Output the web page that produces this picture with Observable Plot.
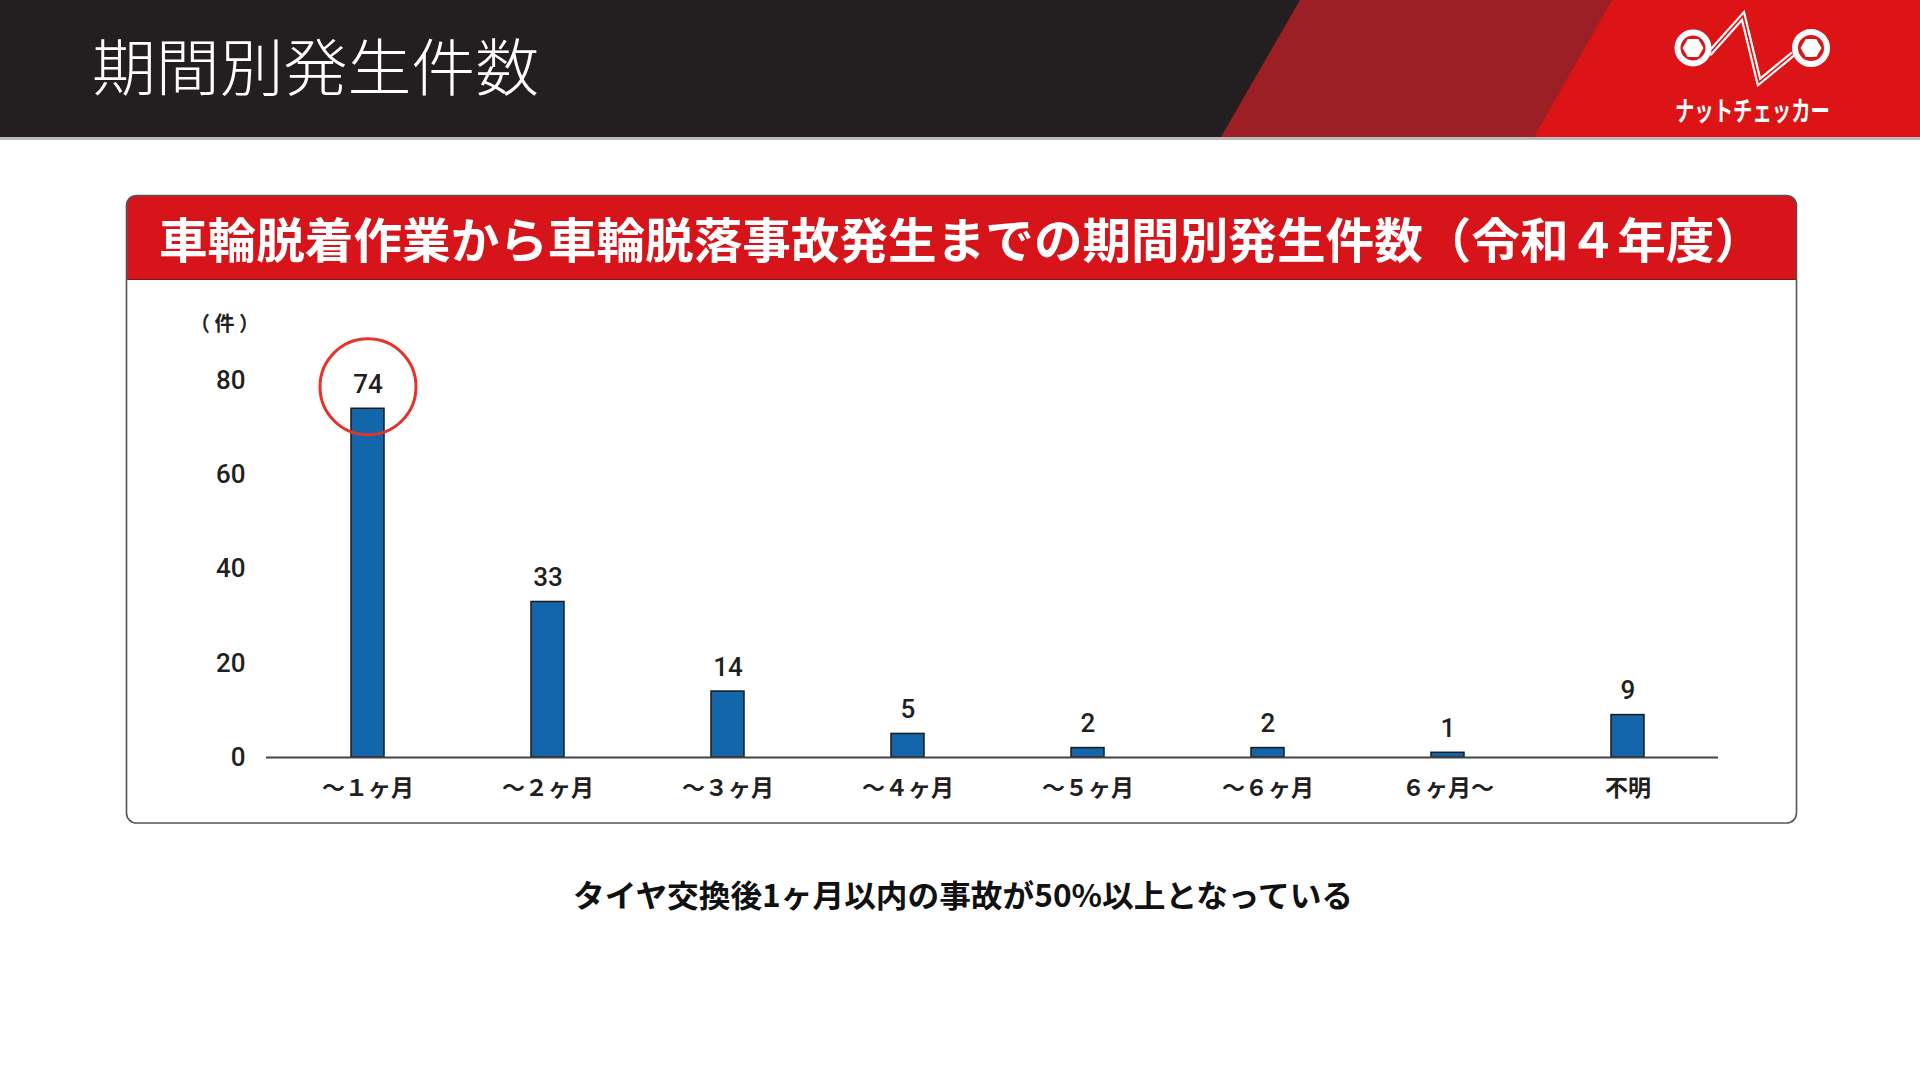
<!DOCTYPE html>
<html lang="ja">
<head>
<meta charset="utf-8">
<script src="https://cdn.jsdelivr.net/npm/d3@7"></script>
<script src="https://cdn.jsdelivr.net/npm/@observablehq/plot@0.6"></script>
<style>
  html, body { margin: 0; padding: 0; background: #ffffff; }
  body { width: 1920px; height: 1080px; position: relative; overflow: hidden; font-family: "Noto Sans CJK JP", "Noto Sans", sans-serif; }
  #deco { position: absolute; left: 0; top: 0; }
  #chart { position: absolute; left: 126px; top: 280px; }
</style>
</head>
<body>
<svg id="deco" width="1920" height="1080" xmlns="http://www.w3.org/2000/svg">
  <!-- header band -->
  <rect x="0" y="0" width="1920" height="137" fill="#231f20"/>
  <polygon points="1300,0 1920,0 1920,137 1221,137" fill="#9c1f25"/>
  <polygon points="1612,0 1920,0 1920,137 1534,137" fill="#dc1416"/>
  <rect x="0" y="137" width="1920" height="3" fill="#b9b9b9"/>
  <text x="92" y="64" dominant-baseline="central" fill="#ffffff" font-size="62" font-weight="300" textLength="447" lengthAdjust="spacingAndGlyphs" font-family="Noto Sans CJK JP">期間別発生件数</text>
  <!-- logo -->
  <g fill="none" stroke="#ffffff">
    <polyline points="1709,54 1743,16 1759,82 1793,54" stroke-width="6" stroke-linejoin="miter"/>
    <polyline points="1709,54 1743,16 1759,82 1793,54" stroke="#dc1416" stroke-width="1.6" stroke-linejoin="miter"/>
    <circle cx="1693" cy="48" r="15.5" stroke-width="6" fill="#dc1416"/>
    <circle cx="1811" cy="48" r="16" stroke-width="6" fill="#dc1416"/>
  </g>
  <polygon points="1703.5,48 1698.25,57.1 1687.75,57.1 1682.5,48 1687.75,38.9 1698.25,38.9" fill="#ffffff"/>
  <polygon points="1821.5,48 1816.25,57.1 1805.75,57.1 1800.5,48 1805.75,38.9 1816.25,38.9" fill="#ffffff"/>
  <text x="1675" y="109" dominant-baseline="central" fill="#ffffff" font-size="27" font-weight="700" textLength="155" lengthAdjust="spacingAndGlyphs" font-family="Noto Sans CJK JP">ナットチェッカー</text>
  <!-- panel -->
  <clipPath id="panelClip"><rect x="126.5" y="195.5" width="1670" height="627.5" rx="10" ry="10"/></clipPath>
  <rect x="126.5" y="195.5" width="1670" height="627.5" rx="10" ry="10" fill="#ffffff"/>
  <rect x="126.5" y="195.5" width="1670" height="84" fill="#d7141a" clip-path="url(#panelClip)"/>
  <line x1="126.5" y1="279.5" x2="1796.5" y2="279.5" stroke="#7a1a1a" stroke-width="1"/>
  <rect x="126.5" y="195.5" width="1670" height="627.5" rx="10" ry="10" fill="none" stroke="#555555" stroke-width="1.6"/>
  <text x="159" y="237" dominant-baseline="central" fill="#ffffff" font-size="48" font-weight="700" textLength="1604" lengthAdjust="spacingAndGlyphs" font-family="Noto Sans CJK JP">車輪脱着作業から車輪脱落事故発生までの期間別発生件数（令和４年度）</text>
  <!-- caption -->
  <text x="963" y="893" text-anchor="middle" dominant-baseline="central" fill="#111111" font-size="31" font-weight="700" textLength="780" lengthAdjust="spacingAndGlyphs" font-family="Noto Sans CJK JP">タイヤ交換後1ヶ月以内の事故が50%以上となっている</text>
</svg>
<div id="chart"></div>
<script>
const categories = ["～１ヶ月", "～２ヶ月", "～３ヶ月", "～４ヶ月", "～５ヶ月", "～６ヶ月", "６ヶ月～", "不明"];
const counts = [74, 33, 14, 5, 2, 2, 1, 9];
const yTicks = [0, 20, 40, 60, 80];
const yUnit = "（ 件 ）";
const highlighted = ["～１ヶ月"];

const data = categories.map((c, i) => ({category: c, count: counts[i]}));
const highlight = data.filter(d => highlighted.includes(d.category));

const numFont = "Roboto, 'Liberation Sans', sans-serif";
const jpFont = "'Noto Sans CJK JP', sans-serif";

const chart = Plot.plot({
  width: 1670,
  height: 540,
  marginLeft: 140,
  marginRight: 78,
  marginTop: 100,
  marginBottom: 63,
  style: {background: "transparent", overflow: "visible", color: "#231f20"},
  x: {domain: categories, range: [151.5, 1591.5], paddingInner: 0.817, paddingOuter: 0.4085, align: 0.5, axis: null},
  y: {domain: [0, 80], axis: null},
  marks: [
    Plot.axisY({ticks: yTicks, tickSize: 0, tickPadding: 21, fontSize: 26, fontWeight: 500, fontFamily: numFont, fill: "#231f20", label: null}),
    Plot.axisX({tickSize: 0, tickPadding: 22, fontSize: 23, fontWeight: 700, fontFamily: jpFont, fill: "#231f20", label: null}),
    Plot.text([yUnit], {frameAnchor: "top-left", dx: -42, dy: -64, text: d => d, fontSize: 20, fontWeight: 700, fontFamily: jpFont, fill: "#231f20", textAnchor: "middle"}),
    Plot.barY(data, {x: "category", y: "count", fill: "#1466aa", stroke: "#1b1b1b", strokeWidth: 1.5}),
    Plot.ruleY([0], {stroke: "#444444", strokeWidth: 2}),
    Plot.text(data, {x: "category", y: "count", text: d => String(d.count), dy: -24, fontSize: 26, fontWeight: 500, fontFamily: numFont, fill: "#231f20"}),
    Plot.dot(highlight, {x: "category", y: "count", dy: -22, r: 48, fill: "none", stroke: "#e5332a", strokeWidth: 3})
  ]
});
document.getElementById("chart").appendChild(chart);
</script>
</body>
</html>
